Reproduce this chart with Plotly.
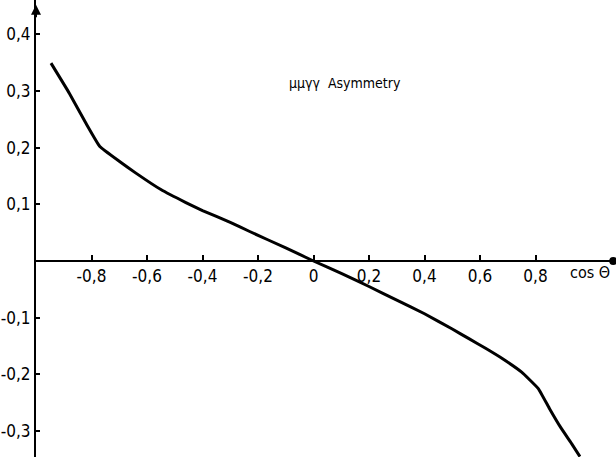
import plotly.graph_objects as go

cos_theta = [-0.946, -0.88, -0.82, -0.77, -0.70, -0.64, -0.55, -0.46, -0.40, -0.30,
             -0.23, -0.10, 0.0, 0.10, 0.20, 0.30, 0.40, 0.50, 0.56, 0.62, 0.68,
             0.75, 0.81, 0.85, 0.89, 0.93, 0.96]
asymmetry = [0.349, 0.296, 0.243, 0.202, 0.176, 0.155, 0.126, 0.103, 0.089, 0.068,
             0.052, 0.023, 0.0, -0.022, -0.045, -0.069, -0.093, -0.120, -0.137, -0.154,
             -0.172, -0.196, -0.225, -0.260, -0.293, -0.322, -0.345]

x_tickvals = [-0.8, -0.6, -0.4, -0.2, 0, 0.2, 0.4, 0.6, 0.8]
x_ticktext = ["-0,8", "-0,6", "-0,4", "-0,2", "0", "0,2", "0,4", "0,6", "0,8"]
y_tickvals = [0.4, 0.3, 0.2, 0.1, -0.1, -0.2, -0.3]
y_ticktext = ["0,4", "0,3", "0,2", "0,1", "-0,1", "-0,2", "-0,3"]

xr = [-1.0, 1.090]
yr = [-0.3457, 0.4603]
x_axis_pos = (0 - yr[0]) / (yr[1] - yr[0])

FONT = "DejaVu Sans Condensed, Liberation Sans Narrow, sans-serif"

fig = go.Figure()
fig.add_trace(go.Scatter(x=cos_theta, y=asymmetry, mode="lines",
                         line=dict(color="black", width=3, shape="spline", smoothing=0.3),
                         showlegend=False, hoverinfo="skip"))

fig.update_layout(
    width=616, height=457,
    margin=dict(l=36, r=0, t=0, b=0),
    paper_bgcolor="white", plot_bgcolor="white",
    font=dict(family=FONT, size=17, color="black"),
    xaxis=dict(range=xr, showgrid=False, zeroline=False, showline=True,
               linecolor="black", linewidth=2, anchor="free", position=x_axis_pos,
               tickvals=x_tickvals, ticktext=x_ticktext, ticks="inside", ticklen=5,
               tickwidth=2, tickcolor="black", tickfont=dict(family=FONT, size=17)),
    yaxis=dict(range=yr, showgrid=False, zeroline=False, showline=True,
               linecolor="black", linewidth=2,
               tickvals=y_tickvals, ticktext=y_ticktext, ticks="inside", ticklen=4,
               tickwidth=2, tickcolor="black", tickfont=dict(family=FONT, size=17)),
)

fig.add_annotation(x=-0.095, y=0.314, xref="x", yref="y", xanchor="left", yanchor="middle",
                   text="μμγγ  Asymmetry", showarrow=False,
                   font=dict(family=FONT, size=14, color="black"))
fig.add_annotation(x=1.074, y=-0.021, xref="x", yref="y", xanchor="right", yanchor="middle",
                   text="cos Θ", showarrow=False,
                   font=dict(family=FONT, size=16, color="black"))
# axis arrows
fig.add_annotation(x=-1.0, y=0.452, xref="x", yref="y", text="", showarrow=True,
                   arrowhead=2, arrowsize=1, arrowwidth=2, arrowcolor="black", ax=0, ay=14)
fig.add_annotation(x=1.08, y=0, xref="x", yref="y", text="", showarrow=True,
                   arrowhead=6, arrowsize=1, arrowwidth=2, arrowcolor="black", ax=-6, ay=0)

fig.write_html("out.html")
